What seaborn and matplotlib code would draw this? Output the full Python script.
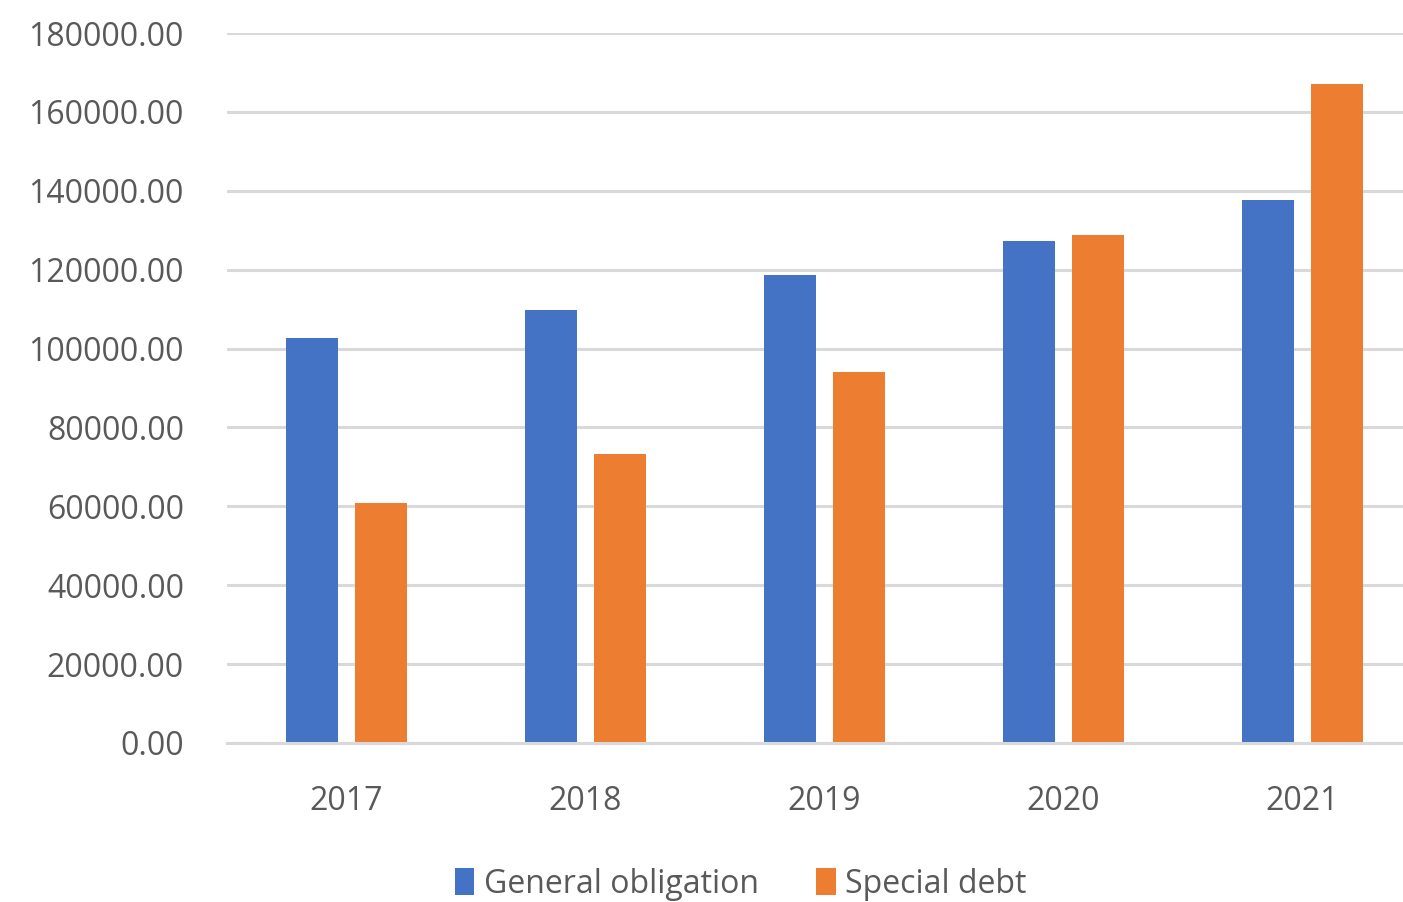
import numpy as np
import pandas as pd
import matplotlib.pyplot as plt
import seaborn as sns

years = ['2017', '2018', '2019', '2020', '2021']
general_obligation = [102700, 109800, 118700, 127300, 137700]
special_debt = [60850, 73300, 94100, 128800, 167100]
series_names = ['General obligation', 'Special debt']
colors = ['#4472C4', '#ED7D31']

df = pd.DataFrame({
    'year': years * 2,
    'value': general_obligation + special_debt,
    'series': [series_names[0]] * 5 + [series_names[1]] * 5,
})

sns.set_style('white')
plt.rcParams['font.family'] = ['Open Sans', 'DejaVu Sans']

fig = plt.figure(figsize=(14.03, 9.02), dpi=100)
ax = fig.add_axes([0.1618, 0.1763, 0.8382, 0.7871])

sns.barplot(data=df, x='year', y='value', hue='series', palette=colors,
            width=0.577, gap=0.25, ax=ax, saturation=1, linewidth=0)

ax.set_ylim(0, 180000)
ax.set_xlim(-0.5, 4.42)
ax.set_yticks(np.arange(0, 180001, 20000))
ax.set_yticklabels([f'{v:.2f}' for v in np.arange(0, 180001, 20000)])
ax.yaxis.grid(True, color='#d9d9d9', linewidth=2.2)
ax.set_axisbelow(True)
for s in ['top', 'right', 'left']:
    ax.spines[s].set_visible(False)
ax.spines['bottom'].set_color('#d9d9d9')
ax.spines['bottom'].set_linewidth(2.2)
ax.tick_params(axis='both', length=0, labelsize=23, colors='#595959')
ax.tick_params(axis='y', pad=31)
ax.tick_params(axis='x', pad=30)
ax.set_xlabel('')
ax.set_ylabel('')

ax.legend(loc='center', bbox_to_anchor=(0.437, -0.199), ncol=2, frameon=False,
          fontsize=23, labelcolor='#595959', handlelength=0.6, handleheight=0.9,
          handletextpad=0.3, columnspacing=1.8)

fig.savefig('out.png', dpi=100)
